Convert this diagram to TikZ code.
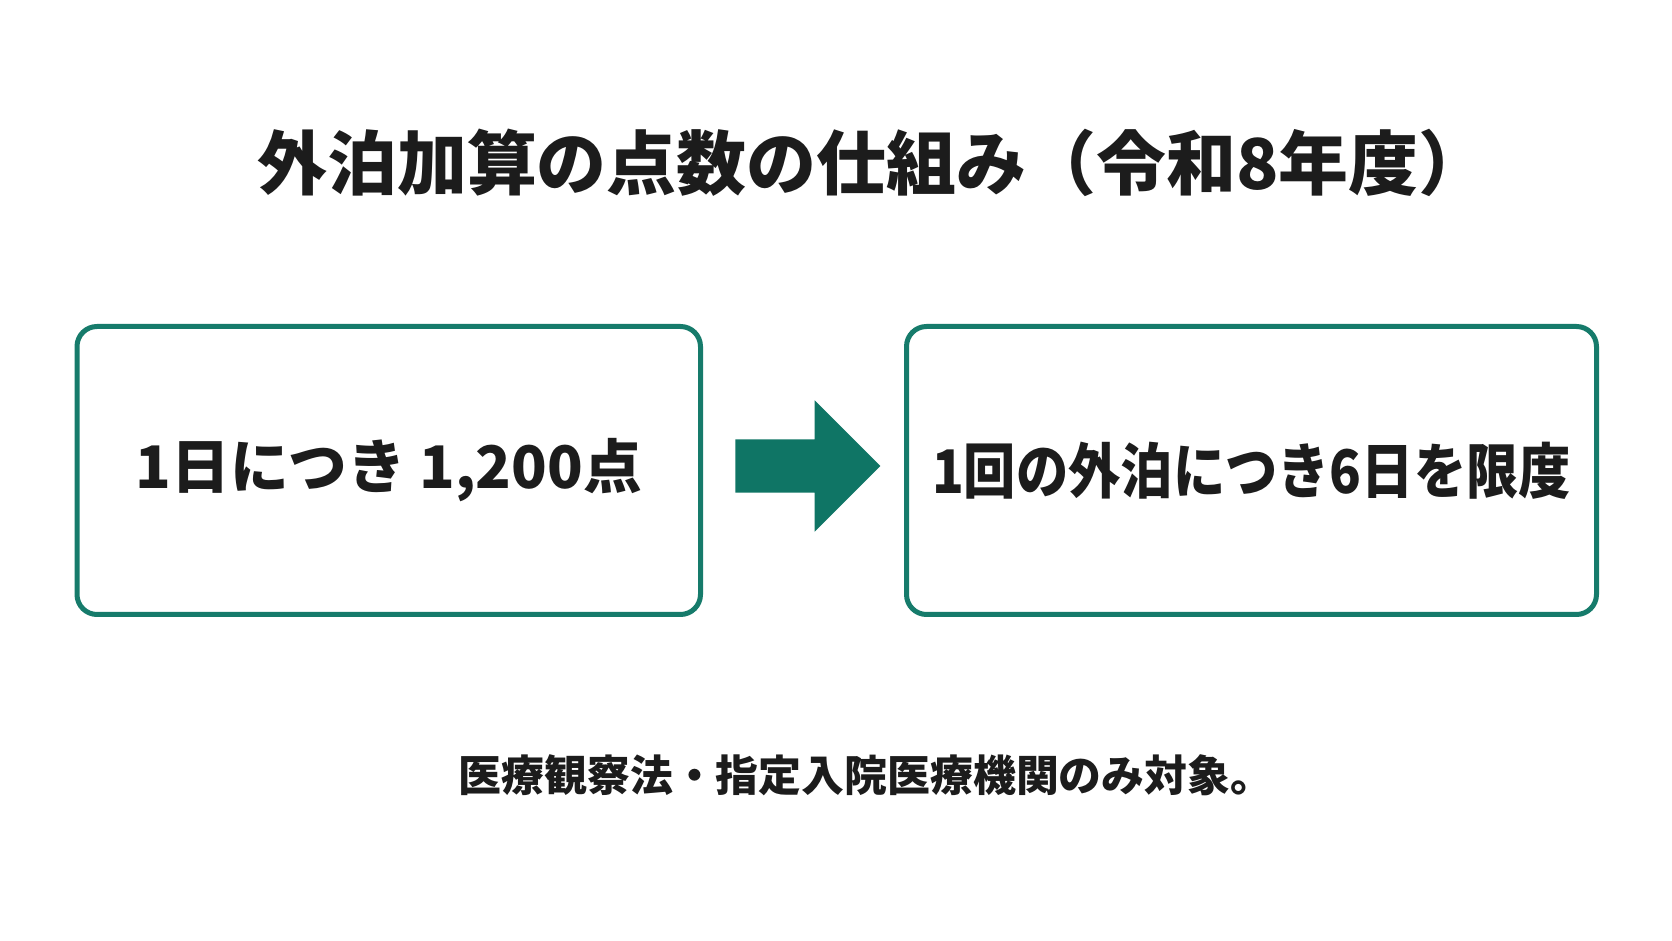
\documentclass[tikz,border=0pt]{standalone}
\usepackage{fontspec}
\usetikzlibrary{shapes.arrows}
\newfontfamily\jpfont{Noto Sans CJK JP}
\newfontfamily\jpnarrow{Noto Sans CJK JP}[FakeStretch=0.87]
\definecolor{boxteal}{HTML}{167B6B}
\definecolor{arrowteal}{HTML}{0F7565}
\definecolor{ink}{HTML}{1C1C1C}

\begin{document}
\begin{tikzpicture}[x=0.1mm, y=-0.1mm,
    box/.style={draw=boxteal, line width=0.5mm, rounded corners=2mm, minimum height=28.8mm, text=ink, font=\jpfont\bfseries\fontsize{16.7pt}{20pt}\selectfont}]
    \useasboundingbox[fill=white] (0,0) rectangle (1672,941);
    \node[text=ink, font=\jpfont\bfseries\fontsize{19.9pt}{24pt}\selectfont] (title) at (873,163) {外泊加算の点数の仕組み（令和8年度）};
    \node[box, minimum width=62.35mm] (perday) at (388.75,470.5) {1日につき 1,200点};
    \node[box, minimum width=69mm, font=\jpnarrow\bfseries\fontsize{17.1pt}{20pt}\selectfont] (limit) at (1251.5,470.5) {1回の外泊につき6日を限度};
    \node[single arrow, fill=arrowteal, draw=none, inner xsep=0pt, inner ysep=2.6mm, text height=0pt, text depth=0pt,
          minimum height=14.5mm, single arrow head extend=3.9mm] (arrow) at (794.5,466) {};
    \node[text=ink, font=\jpfont\bfseries\fontsize{12.2pt}{15pt}\selectfont] (note) at (866,775) {医療観察法・指定入院医療機関のみ対象。};
  \end{tikzpicture}
\end{document}
